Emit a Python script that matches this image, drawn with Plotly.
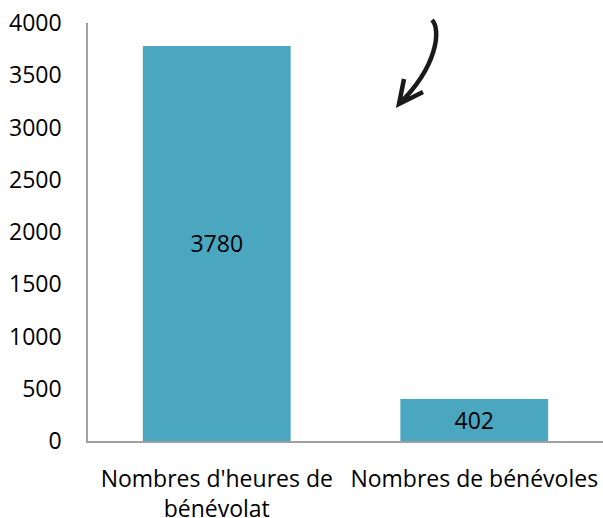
import plotly.graph_objects as go

categories = ["Nombres d'heures de<br>bénévolat", "Nombres de bénévoles"]
values = [3780, 402]
y_ticks = [0, 500, 1000, 1500, 2000, 2500, 3000, 3500, 4000]

W, H = 603, 518
L, R, T, B = 88, 0, 23, 77
FONT = "Open Sans"


def px(x, y):
    """pixel -> paper coords"""
    return (x - L) / (W - L - R), (H - B - y) / (H - T - B)


fig = go.Figure()

fig.add_trace(go.Bar(
    x=categories, y=values,
    marker=dict(color='#4BA6BF', line=dict(width=0)),
    text=[str(v) for v in values], textposition='inside', insidetextanchor='middle',
    textfont=dict(family=FONT, size=23, color='black'),
    width=0.574,
))

# flèche dessinée à la main
p0, c1, c2, p1 = px(432, 20), px(441, 29), px(438, 66), px(399, 104)
h1, h2 = px(404, 79), px(423, 92)
arrow = (f"M {p0[0]},{p0[1]} C {c1[0]},{c1[1]} {c2[0]},{c2[1]} {p1[0]},{p1[1]} "
         f"M {h1[0]},{h1[1]} L {p1[0]},{p1[1]} L {h2[0]},{h2[1]}")
fig.add_shape(type='path', path=arrow, xref='paper', yref='paper',
              line=dict(color='#1a1a1a', width=4.5))

fig.update_layout(
    width=W, height=H,
    margin=dict(l=L, r=R, t=T, b=B),
    plot_bgcolor='white', paper_bgcolor='white',
    showlegend=False,
    font=dict(family=FONT, size=23, color='black'),
)
fig.update_xaxes(showline=True, linecolor='#A0A0A0', linewidth=1.5, showgrid=False, automargin=False,
                 tickfont=dict(size=23), ticks='outside', ticklen=17, tickcolor='rgba(0,0,0,0)')
fig.update_yaxes(range=[0, 4000], tickvals=y_ticks, showline=True, linecolor='#A0A0A0', linewidth=1.5,
                 showgrid=False, zeroline=False, automargin=False, tickfont=dict(size=23),
                 ticks='outside', ticklen=20, tickcolor='rgba(0,0,0,0)')

fig.write_html("out.html", config={'displayModeBar': False},
               post_script="document.body.style.margin='0';")
